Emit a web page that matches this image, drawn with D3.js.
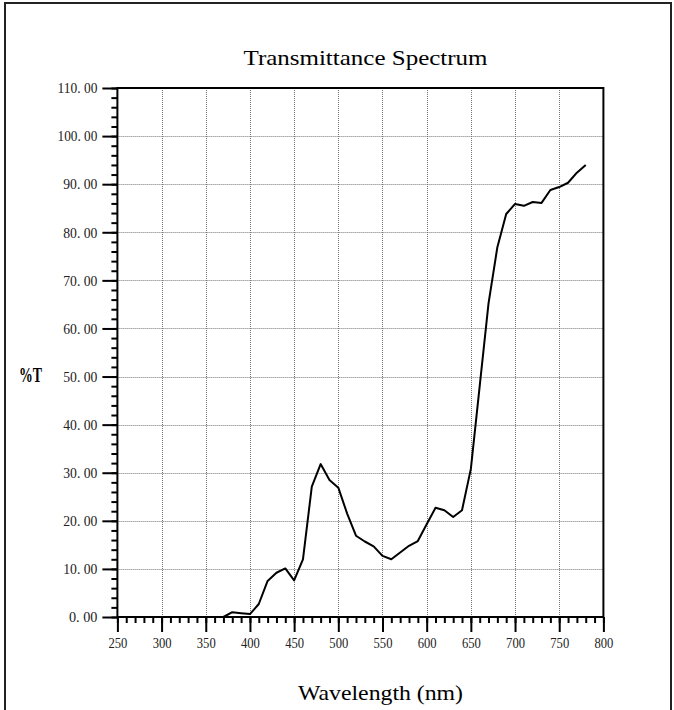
<!DOCTYPE html>
<html>
<head>
<meta charset="utf-8">
<script src="https://cdn.jsdelivr.net/npm/d3@7"></script>
<style>
  html, body { margin: 0; padding: 0; background: #fff; }
  svg { display: block; }
</style>
</head>
<body>
<svg id="chart" width="674" height="710"></svg>
<script>
const titleText = "Transmittance Spectrum";
const xLabel = "Wavelength (nm)";
const yLabel = "%T";
const wavelengths = [250,260,270,280,290,300,310,320,330,340,350,360,370,380,390,400,410,420,430,440,450,460,470,480,490,500,510,520,530,540,550,560,570,580,590,600,610,620,630,640,650,660,670,680,690,700,710,720,730,740,750,760,770,780];
const transmittance = [0,0,0,0,0,0,0,0,0,0,0,0,0,1.0,0.8,0.6,2.7,7.5,9.2,10.1,7.6,12.0,27.1,31.8,28.5,26.9,21.5,16.9,15.7,14.7,12.7,12.0,13.4,14.8,15.8,19.3,22.7,22.2,20.8,22.2,30.8,48.0,65.2,76.9,83.8,85.9,85.5,86.3,86.1,88.8,89.4,90.3,92.4,94.0];
const xMajorTicks = [250,300,350,400,450,500,550,600,650,700,750,800];
const yMajorTicks = [0,10,20,30,40,50,60,70,80,90,100,110];
const xDomain = [250, 800];
const yDomain = [0, 110];

(function () {
const FONT = "Liberation Serif, DejaVu Serif, serif";
const svg = d3.select("#chart");
const pL = 117.4, pR = 603.4, pT = 88, pB = 617;
const x = d3.scaleLinear().domain(xDomain).range([pL, pR]);
const y = d3.scaleLinear().domain(yDomain).range([pB, pT]);

// outer border
svg.append("rect").attr("x", 5).attr("y", 3).attr("width", 666).attr("height", 720)
  .attr("fill", "none").attr("stroke", "#222").attr("stroke-width", 2);

// grid
const grid = svg.append("g").attr("stroke", "#777").attr("stroke-width", 1).attr("stroke-dasharray", "1,1");
xMajorTicks.filter(v => v > xDomain[0] && v < xDomain[1]).forEach(v => {
  grid.append("line").attr("x1", Math.round(x(v)) + 0.5).attr("x2", Math.round(x(v)) + 0.5)
    .attr("y1", pT).attr("y2", pB);
});
yMajorTicks.filter(v => v > yDomain[0] && v < yDomain[1]).forEach(v => {
  grid.append("line").attr("y1", Math.round(y(v)) + 0.5).attr("y2", Math.round(y(v)) + 0.5)
    .attr("x1", pL).attr("x2", pR);
});

const fmtY = v => d3.format(".2f")(v).replace(".", ". ");

// y axis minor
const yMinor = d3.range(0, 110.01, 2);
svg.append("g").attr("transform", `translate(${pL},0)`)
  .call(d3.axisLeft(y).tickValues(yMinor).tickSize(6).tickFormat(""))
  .call(g => g.select(".domain").remove())
  .selectAll("line").attr("stroke", "#000").attr("stroke-width", 2);
// y axis major
const yAx = svg.append("g").attr("transform", `translate(${pL},0)`)
  .call(d3.axisLeft(y).tickValues(yMajorTicks).tickSize(15).tickPadding(5).tickFormat(fmtY));
yAx.select(".domain").remove();
yAx.selectAll("line").attr("stroke", "#000").attr("stroke-width", 2);
yAx.selectAll("text")
  .attr("font-family", FONT)
  .attr("font-size", 14).attr("fill", "#222")
  .attr("dy", "0.34em")
  .each(function() {
    const t = d3.select(this).text();
    d3.select(this).attr("textLength", t.length * 5.7).attr("lengthAdjust", "spacingAndGlyphs");
  });

// x axis minor
const xMinor = d3.range(250, 800.01, 10);
svg.append("g").attr("transform", `translate(0,${pB})`)
  .call(d3.axisBottom(x).tickValues(xMinor).tickSize(6).tickFormat(""))
  .call(g => g.select(".domain").remove())
  .selectAll("line").attr("stroke", "#000").attr("stroke-width", 2);
// x axis major
const xAx = svg.append("g").attr("transform", `translate(0,${pB})`)
  .call(d3.axisBottom(x).tickValues(xMajorTicks).tickSize(15).tickPadding(0).tickFormat(d3.format("d")));
xAx.select(".domain").remove();
xAx.selectAll("line").attr("stroke", "#000").attr("stroke-width", 2);
xAx.selectAll("text")
  .attr("font-family", FONT)
  .attr("font-size", 14).attr("fill", "#222")
  .attr("y", 31).attr("dy", 0)
  .each(function() {
    const t = d3.select(this).text();
    d3.select(this).attr("textLength", t.length * 6.3).attr("lengthAdjust", "spacingAndGlyphs");
  });

// frame
svg.append("rect").attr("x", pL).attr("y", pT).attr("width", pR - pL).attr("height", pB - pT)
  .attr("fill", "none").attr("stroke", "#000").attr("stroke-width", 2);

// curve
const line = d3.line().x((d, i) => x(wavelengths[i])).y(d => y(d));
svg.append("path").datum(transmittance)
  .attr("d", line).attr("fill", "none").attr("stroke", "#000").attr("stroke-width", 2)
  .attr("stroke-linejoin", "round");

// title
svg.append("text").attr("x", 365.5).attr("y", 64.5).attr("text-anchor", "middle")
  .attr("font-family", FONT)
  .attr("font-size", 21).attr("fill", "#000")
  .attr("textLength", 244).attr("lengthAdjust", "spacingAndGlyphs")
  .text(titleText);

// x label
svg.append("text").attr("x", 380.5).attr("y", 699.5).attr("text-anchor", "middle")
  .attr("font-family", FONT)
  .attr("font-size", 21).attr("fill", "#000")
  .attr("textLength", 165).attr("lengthAdjust", "spacingAndGlyphs")
  .text(xLabel);

// y label
svg.append("text").attr("x", 30.5).attr("y", 382).attr("text-anchor", "middle")
  .attr("font-family", FONT)
  .attr("font-size", 21).attr("font-weight", "bold").attr("fill", "#000")
  .attr("textLength", 23).attr("lengthAdjust", "spacingAndGlyphs")
  .text(yLabel);
})();
</script>
</body>
</html>
